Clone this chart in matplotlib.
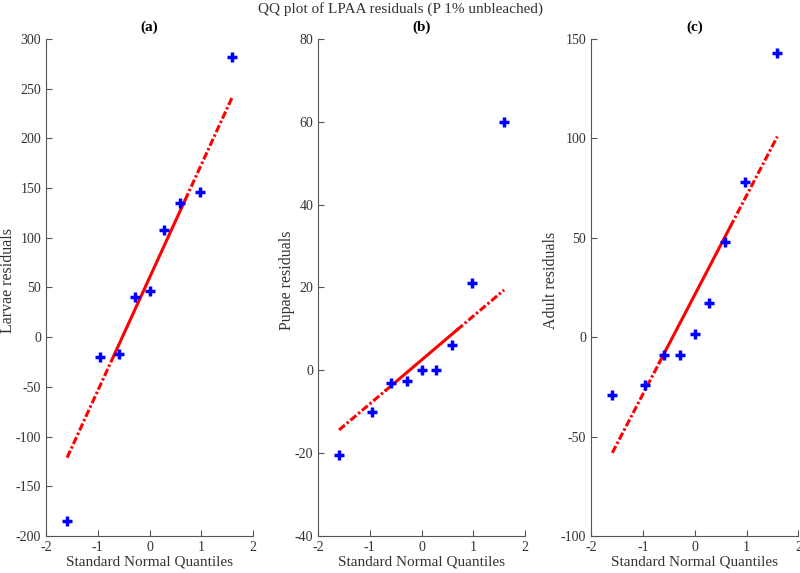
import numpy as np
import matplotlib
matplotlib.use("Agg")
import matplotlib.pyplot as plt

plt.rcParams['font.family'] = ['Liberation Serif', 'DejaVu Serif']
plt.rcParams['axes.unicode_minus'] = False

# Standard normal quantiles for n = 9 (plotting positions (i-0.5)/n)
x_q = [-1.593, -0.967, -0.589, -0.282, 0.0, 0.282, 0.589, 0.967, 1.593]

# Sorted residuals
larvae = [-185, -20, -17, 40, 46, 108, 135, 146, 282]
pupae = [-20.5, -10, -3, -2.5, 0, 0, 6, 21, 60]
adult = [-29, -24, -9, -9, 1.6, 17, 48, 78, 143]

panels = ["(a)", "(b)", "(c)"]
ylabels = ["Larvae residuals", "Pupae residuals", "Adult residuals"]
ylims = [(-200, 300), (-40, 80), (-100, 150)]
ysteps = [50, 20, 50]
lefts = [0.0575, 0.3975, 0.739]
ylab_x = [-0.145, -0.11, -0.155]


def prct(v, p):
    # MATLAB style percentile (midpoint plotting positions)
    v = np.sort(np.asarray(v, dtype=float))
    n = len(v)
    k = p / 100.0 * n + 0.5
    i = int(np.floor(k))
    f = k - i
    return v[i - 1] + f * (v[i] - v[i - 1])


fig = plt.figure(figsize=(8, 5.73), dpi=100)
fig.suptitle("QQ plot of LPAA residuals (P 1% unbleached)", y=0.997,
             fontsize=11, color='#333333')

for k, data in enumerate([larvae, pupae, adult]):
    ax = fig.add_axes([lefts[k], 0.0646, 0.259, 0.8674])

    # reference line through the quartiles, extended to the data range
    q1x, q3x = prct(x_q, 25), prct(x_q, 75)
    q1y, q3y = prct(data, 25), prct(data, 75)
    slope = (q3y - q1y) / (q3x - q1x)
    icpt = q1y - slope * q1x
    xa = np.array([x_q[0], q1x])
    xb = np.array([q1x, q3x])
    xc = np.array([q3x, x_q[-1]])
    for xs in (xa, xc):
        ax.plot(xs, icpt + slope * xs, color='red', lw=2.2,
                dashes=(2.5, 0.8, 0.8, 0.8))
    ax.plot(xb, icpt + slope * xb, color='red', lw=2.2, ls='-')

    ax.plot(x_q, data, ls='none', marker='+', color='blue', ms=7, mew=2.5)

    ax.set_xlim(-2, 2)
    ax.set_ylim(*ylims[k])
    ax.set_xticks(np.arange(-2, 3, 1))
    ax.set_yticks(np.arange(ylims[k][0], ylims[k][1] + 1, ysteps[k]))
    ax.spines['top'].set_visible(False)
    ax.spines['right'].set_visible(False)
    for s in ['left', 'bottom']:
        ax.spines[s].set_color('#555555')
    ax.tick_params(direction='in', length=4, colors='#555555',
                   labelcolor='#333333', labelsize=10)
    ax.set_xlabel("Standard Normal Quantiles", fontsize=11,
                  color='#333333', labelpad=1)
    ax.set_ylabel(ylabels[k], fontsize=11.5, color='#333333')
    ax.yaxis.set_label_coords(ylab_x[k], 0.515)
    ax.set_title(panels[k], fontsize=11, fontweight='bold', pad=6)

plt.savefig("out.png", dpi=100)
